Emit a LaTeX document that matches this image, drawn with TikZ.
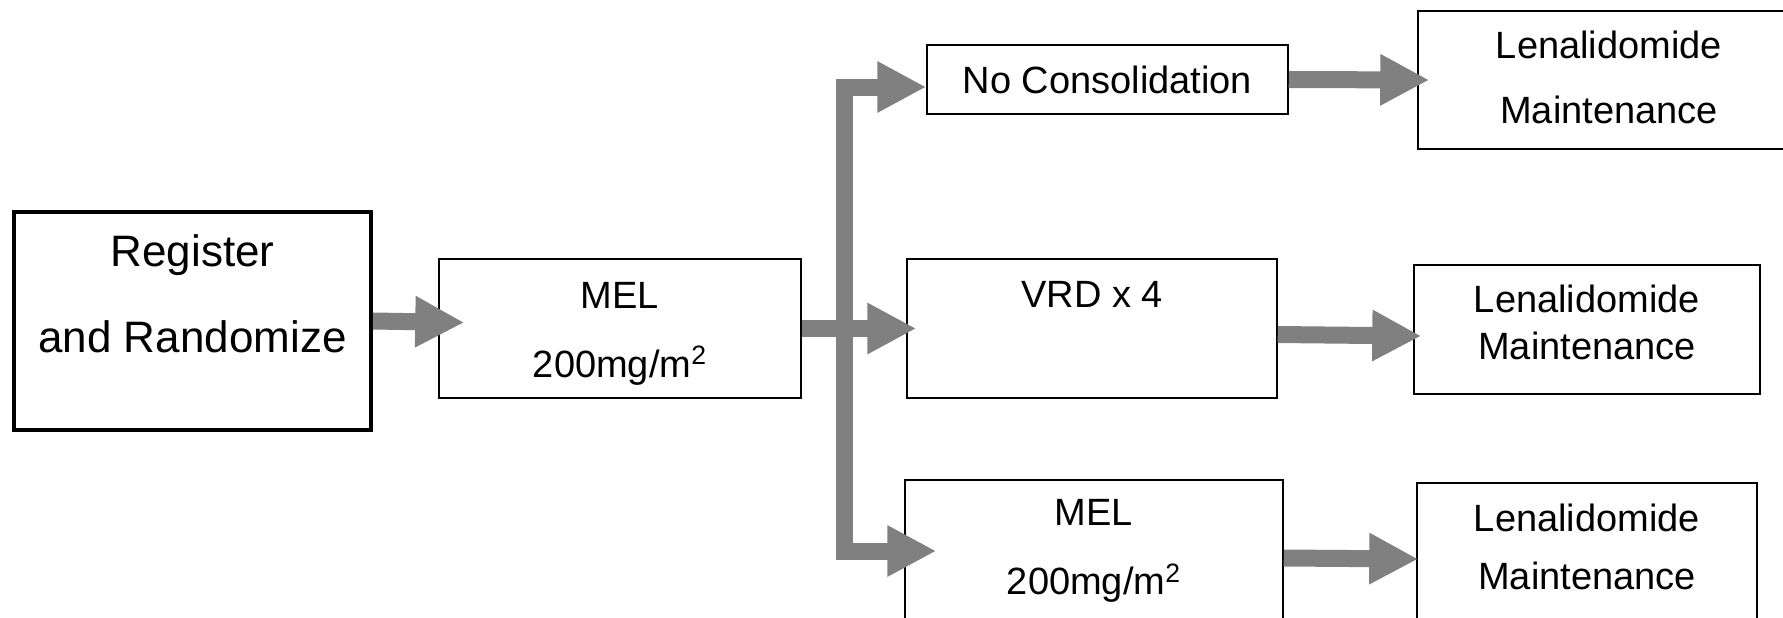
\documentclass[tikz,border=0pt]{standalone}
\usepackage{fontspec}
\setmainfont{Liberation Sans}
\usetikzlibrary{arrows.meta}
\definecolor{flowgray}{RGB}{128,128,128}
\tikzset{
  armbox/.style={draw=black, line width=0.75pt, fill=white, align=center, inner sep=0pt, font=\fontsize{19}{22.8}\selectfont},
  regbox/.style={armbox, line width=2pt, font=\fontsize{22}{26.4}\selectfont},
  fattip/.tip={Triangle[length=24.5pt, width=24pt]},
  fatarrow/.style={draw=flowgray, line width=8.5pt, -fattip}
}

\begin{document}
\begin{tikzpicture}[x=0.5pt, y=-0.5pt]
  \useasboundingbox (0,0) rectangle (1783,617);
  \clip (0,0) rectangle (1783,617);

  % induction
  \node[regbox, minimum width=178.5pt, minimum height=109pt] (reg) at (192.5,321) {Register\\[16.6pt]and Randomize\rule[-27pt]{0pt}{27pt}};
  \node[armbox, minimum width=181pt, minimum height=69.5pt] (mel) at (620,328.5) {MEL\rule{0pt}{18pt}\\[11.7pt]200mg/m\textsuperscript{2}};

  % consolidation arms
  \node[armbox, minimum width=180.5pt, minimum height=34.5pt] (nocons) at (1107.5,79.5) {No Consolidation};
  \node[armbox, minimum width=185pt, minimum height=69.5pt] (vrd) at (1092,328.5) {VRD x 4\rule[-34.5pt]{0pt}{34.5pt}};
  \node[armbox, minimum width=189pt, minimum height=71pt] (mel2) at (1094,551) {MEL\\[11.7pt]200mg/m\textsuperscript{2}};

  % maintenance
  \node[armbox, minimum width=191pt, minimum height=69pt] (len1) at (1609,80) {Lenalidomide\\[9.7pt]Maintenance\rule[-2.3pt]{0pt}{2.3pt}};
  \node[armbox, minimum width=173pt, minimum height=64.5pt] (len2) at (1587,329.5) {Lenalidomide\\[0.7pt]Maintenance\rule[-7pt]{0pt}{7pt}};
  \node[armbox, minimum width=170pt, minimum height=70pt] (len3) at (1587,553) {Lenalidomide\\[6.2pt]Maintenance\rule[-5.9pt]{0pt}{5.9pt}};

  % arrows
  \coordinate (bus) at ([xshift=-30pt]mel2.west);
  \draw[fatarrow] (reg.east) -- ([xshift=13pt,yshift=3pt]mel.west);
  \draw[fatarrow] (mel.east) -- ([xshift=5pt]vrd.west);
  \draw[fatarrow, fattip-fattip] ([yshift=-3.75pt]nocons.west) -| (bus) -- ([xshift=16pt]mel2.west);
  \draw[fatarrow] (nocons.east) -- ([xshift=6pt]len1.west);
  \draw[fatarrow] ([yshift=-3pt]vrd.east) -- ([xshift=4pt,yshift=-3.25pt]len2.west);
  \draw[fatarrow] ([yshift=-3.5pt]mel2.east) -- ([xshift=1pt,yshift=-3pt]len3.west);
\end{tikzpicture}
\end{document}
